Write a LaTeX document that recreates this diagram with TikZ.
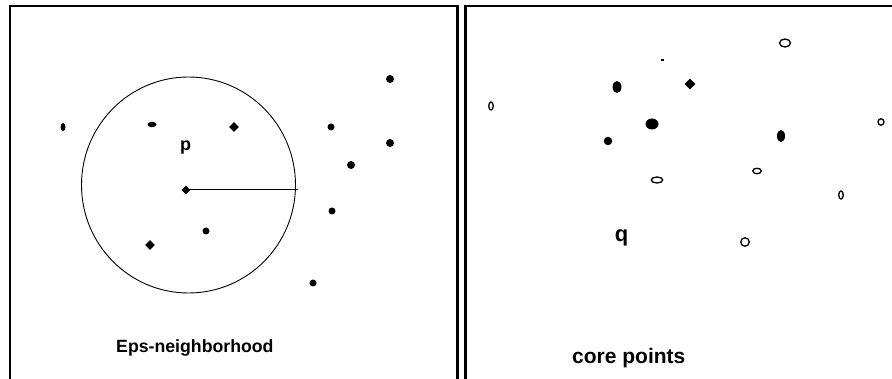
\documentclass[tikz,border=0pt]{standalone}
\usepackage{fontspec}
\setmainfont{Liberation Sans}
\usetikzlibrary{shapes.geometric}
\tikzset{
  frame/.style={line width=2.2pt, black},
  dot/.style={ellipse, fill=black, inner sep=0pt},
  hollow/.style={ellipse, draw=black, line width=1.3pt, fill=white, inner sep=0pt},
  sz/.style n args={2}{minimum width=#1pt, minimum height=#2pt},
  lbl/.style={inner sep=0pt, font=\bfseries},
  ring/.style={line width=0.9pt, black},
}
\begin{document}
\begin{tikzpicture}[x=1pt,y=-1pt]
\useasboundingbox (0,0) rectangle (892,379);
% panel frames
\draw[frame] (10,380) -- (10,6) -- (457.5,6) -- (457.5,380);
\draw[frame] (465.5,380) -- (465.5,6) -- (893,6);

% ---- left panel: Eps-neighborhood ----
\node[dot, sz={5}{8}] (l1) at (63,127) {};
\node[dot, sz={9}{5.5}] (l2) at (152,124.5) {};
\node[dot, diamond, sz={10}{10}] (l3) at (234,127) {};
\node[dot, sz={7}{7}] (l4) at (331,127) {};
\node[dot, sz={8}{8}] (l5) at (390,79) {};
\node[dot, sz={8}{8}] (l6) at (390,143) {};
\node[dot, sz={8}{8}] (l7) at (351,165) {};
\node[dot, sz={7}{7}] (l8) at (332,211) {};
\node[dot, diamond, sz={9}{9}] (p) at (186,190) {};
\node[dot, sz={7}{7}] (l9) at (206,231) {};
\node[dot, diamond, sz={10}{10}] (l10) at (150,245) {};
\node[dot, sz={7}{7}] (l11) at (313,283) {};
\node[ellipse, draw, ring, minimum width=214pt, minimum height=216pt, inner sep=0pt] (eps) at (188.5,185) {};
\coordinate (r) at (298,190);
\draw[line width=1pt] (p.center) -- (r);
\node[lbl, font=\bfseries\fontsize{18}{20}\selectfont, anchor=base] (plabel) at (185.5,151) {p};
\node[lbl, font=\bfseries\fontsize{17.7}{20}\selectfont, anchor=base west] (t1) at (116,353) {Eps-neighborhood};

% ---- right panel: core points ----
\node[hollow, sz={11}{8}] (r1) at (785,43) {};
\node[fill=black, inner sep=0pt, minimum width=3pt, minimum height=1.5pt] (r2) at (662,60) {};
\node[dot, sz={9}{12}] (r3) at (617,87) {};
\node[dot, diamond, sz={11}{11}] (r4) at (690,84) {};
\node[hollow, sz={4.5}{8}] (r5) at (491,106) {};
\node[dot, sz={13}{11}] (r6) at (652,124) {};
\node[hollow, sz={6}{6.5}] (r7) at (881,122) {};
\node[dot, sz={8.5}{8.5}] (r8) at (608,141) {};
\node[dot, sz={8}{12}] (r9) at (781,136) {};
\node[hollow, sz={11.5}{6}] (r10) at (657,180) {};
\node[hollow, sz={8.5}{5.5}] (r11) at (757,171) {};
\node[hollow, sz={4.5}{8}] (r12) at (841,195) {};
\node[hollow, sz={8.5}{8.5}] (r13) at (745,242) {};
\node[lbl, font=\bfseries\fontsize{22}{24}\selectfont, anchor=base] (qlabel) at (621.5,242) {q};
\node[lbl, font=\bfseries\fontsize{21}{24}\selectfont, anchor=base west] (t2) at (572,363) {core points};
\end{tikzpicture}
\end{document}
